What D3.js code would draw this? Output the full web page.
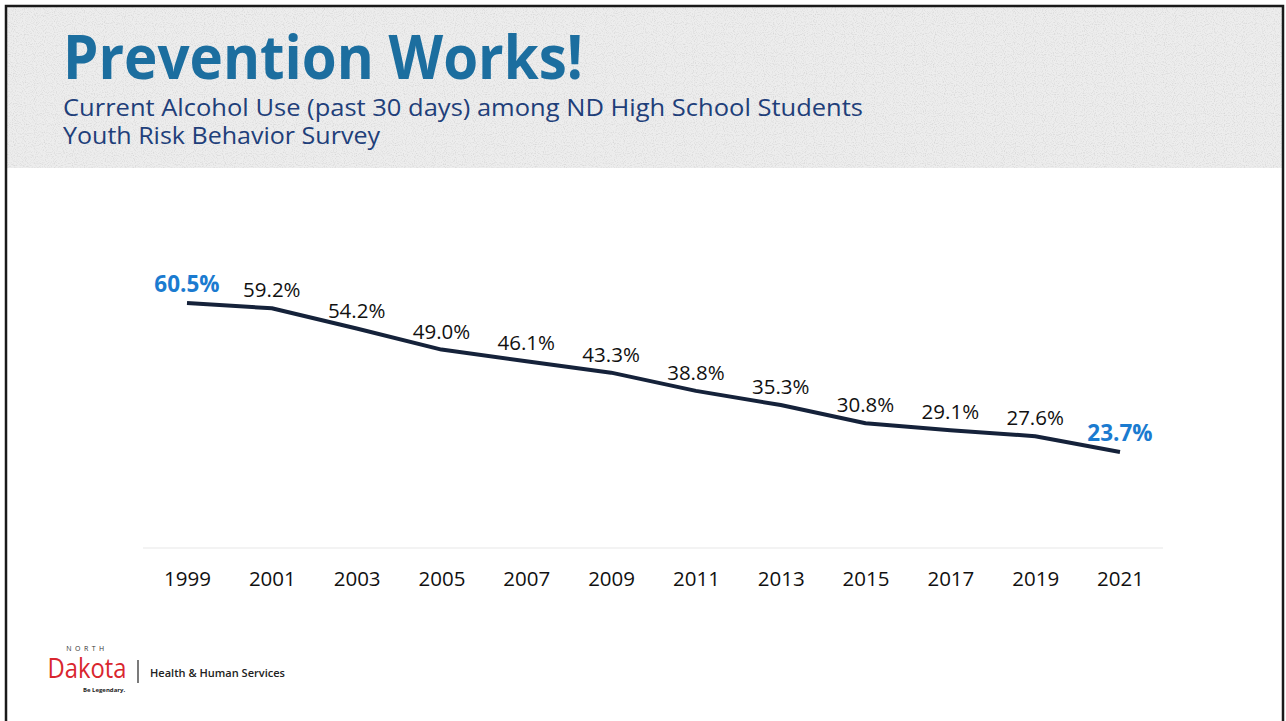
<!DOCTYPE html>
<html>
<head>
<meta charset="utf-8">
<script src="https://cdn.jsdelivr.net/npm/d3@7"></script>
<style>
  body { margin: 0; background: #fff; }
  svg { display: block; font-family: "Open Sans", "Noto Sans", sans-serif; }
</style>
</head>
<body>
<svg id="chart" width="1286" height="721"></svg>
<script>
// data
const years = ["1999", "2001", "2003", "2005", "2007", "2009", "2011", "2013", "2015", "2017", "2019", "2021"];
const alcoholUse = [60.5, 59.2, 54.2, 49.0, 46.1, 43.3, 38.8, 35.3, 30.8, 29.1, 27.6, 23.7];
const highlightYears = ["1999", "2021"];

const title = "Prevention Works!";
const subtitleLines = ["Current Alcohol Use (past 30 days) among ND High School Students", "Youth Risk Behavior Survey"];

const svg = d3.select("#chart");

// speckled grey header like the scanned slide
let defs = svg.append("defs");
let f = defs.append("filter").attr("id", "speckle").attr("x", 0).attr("y", 0).attr("width", 1).attr("height", 1);
f.append("feTurbulence").attr("type", "fractalNoise").attr("baseFrequency", 0.9).attr("numOctaves", 1).attr("seed", 3).attr("result", "n");
f.append("feColorMatrix").attr("in", "n").attr("type", "matrix")
  .attr("values", "0 0 0 0 0.55  0 0 0 0 0.55  0 0 0 0 0.55  0 0 0 1.6 -0.75").attr("result", "dots");
f.append("feFlood").attr("flood-color", "#ededed").attr("result", "bg");
f.append("feComposite").attr("in", "dots").attr("in2", "bg").attr("operator", "over");

svg.append("rect").attr("x", 6).attr("y", 6).attr("width", 1277).attr("height", 162)
  .attr("fill", "#ededed").attr("filter", "url(#speckle)");
svg.append("path")
  .attr("d", "M6,721 V6 H1283 V721")
  .attr("fill", "none").attr("stroke", "#1a1a1a").attr("stroke-width", 2.5);

svg.append("text").attr("x", 63).attr("y", 79)
  .attr("font-size", 60).attr("font-weight", 700)
  .attr("textLength", 520).attr("lengthAdjust", "spacingAndGlyphs")
  .attr("fill", "#1c6e9f").text(title);

const subWidths = [800, 317];
svg.selectAll(".sub").data(subtitleLines).enter().append("text")
  .attr("class", "sub")
  .attr("x", 63).attr("y", (d, i) => 116 + i * 28)
  .attr("font-size", 24).attr("fill", "#1f3f7a")
  .attr("textLength", (d, i) => subWidths[i]).attr("lengthAdjust", "spacingAndGlyphs")
  .text(d => d);

// chart area
let xScale = d3.scalePoint()
  .domain(years)
  .range([187, 1120]);
let yScale = d3.scaleLinear()
  .domain([0, 60.5])
  .range([548, 303]);

// faint baseline
svg.append("line").attr("x1", 143).attr("x2", 1163)
  .attr("y1", yScale(0)).attr("y2", yScale(0))
  .attr("stroke", "#efefef").attr("stroke-width", 1.5);

let xAxis = d3.axisBottom(xScale).tickSize(0).tickPadding(0);
let gx = svg.append("g")
  .attr("transform", "translate(0," + 571 + ")")
  .call(xAxis);
gx.select(".domain").remove();
gx.selectAll("text")
  .attr("font-family", "\"Open Sans\", sans-serif")
  .attr("font-size", 20.5).attr("fill", "#111").attr("dy", "0.71em");

let line = d3.line()
  .x((d, i) => xScale(years[i]))
  .y(d => yScale(d));

svg.append("path").datum(alcoholUse)
  .attr("d", line)
  .attr("fill", "none")
  .attr("stroke", "#15223a")
  .attr("stroke-width", 4)
  .attr("stroke-linejoin", "round");

svg.selectAll(".val").data(alcoholUse).enter().append("text")
  .attr("class", "val")
  .attr("x", (d, i) => xScale(years[i]))
  .attr("y", d => yScale(d) - 11)
  .attr("text-anchor", "middle")
  .attr("font-size", (d, i) => highlightYears.includes(years[i]) ? 22.5 : 20.5)
  .attr("font-weight", (d, i) => highlightYears.includes(years[i]) ? 700 : 400)
  .attr("fill", (d, i) => highlightYears.includes(years[i]) ? "#1b7bd0" : "#111")
  .text(d => d.toFixed(1) + "%");

// logo
let logo = svg.append("g");
logo.append("text").attr("x", 87).attr("y", 651).attr("font-size", 7)
  .attr("letter-spacing", 3.5).attr("fill", "#333").attr("text-anchor", "middle").text("NORTH");
logo.append("text").attr("x", 87).attr("y", 678).attr("font-size", 27)
  .attr("textLength", 79).attr("lengthAdjust", "spacingAndGlyphs")
  .attr("fill", "#d9262e").attr("text-anchor", "middle").text("Dakota");
logo.append("text").attr("x", 104).attr("y", 692).attr("font-size", 6)
  .attr("font-weight", 700).attr("fill", "#222").attr("text-anchor", "middle").text("Be Legendary.");
logo.append("line").attr("x1", 138).attr("x2", 138).attr("y1", 660).attr("y2", 683)
  .attr("stroke", "#222").attr("stroke-width", 1.2);
logo.append("text").attr("x", 150).attr("y", 677).attr("font-size", 11)
  .attr("textLength", 135).attr("lengthAdjust", "spacingAndGlyphs")
  .attr("font-weight", 600).attr("fill", "#222").text("Health & Human Services");
</script>
</body>
</html>
